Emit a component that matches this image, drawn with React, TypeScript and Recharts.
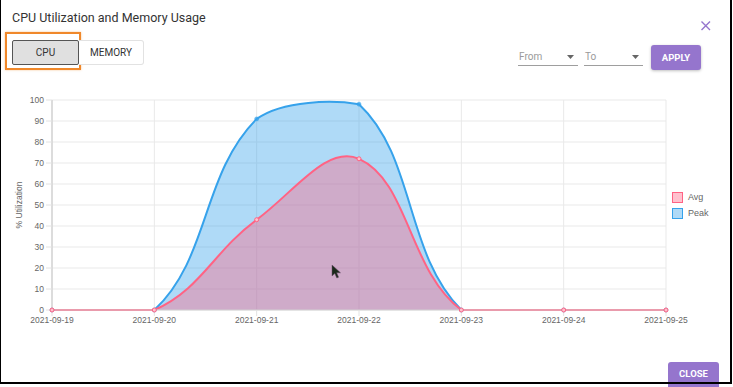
import { AreaChart, Area, XAxis, YAxis, CartesianGrid, Legend } from 'recharts';

const DATES = ['2021-09-19', '2021-09-20', '2021-09-21', '2021-09-22', '2021-09-23', '2021-09-24', '2021-09-25'];
const AVG = [0, 0, 43, 72, 0, 0, 0];
const PEAK = [0, 0, 91, 98, 0, 0, 0];
const Y_TICKS = [0, 10, 20, 30, 40, 50, 60, 70, 80, 90, 100];

const W = 733;
const H = 387;
const PLOT = { left: 52, right: 666, top: 100, bottom: 310 };
const X_AXIS_H = 30;

const AVG_STROKE = '#ff6384';
const AVG_FILL = 'rgba(255, 99, 132, 0.4)';
const PEAK_STROKE = '#36a2eb';
const PEAK_FILL = 'rgba(54, 162, 235, 0.4)';
const PURPLE = '#9575cd';

const SERIES = [
  { name: 'Avg', stroke: AVG_STROKE, fill: AVG_FILL },
  { name: 'Peak', stroke: PEAK_STROKE, fill: PEAK_FILL },
];

const data = DATES.map((date, i) => ({ date, avg: AVG[i], peak: PEAK[i] }));

type Pt = [number, number];

// chart.js style spline (tension 0.4) with control points capped to the plot area
function splineCurve(context: any) {
  const tension = 0.4;
  let line = NaN;
  let pts: Pt[] = [];
  const clamp = (v: number, lo: number, hi: number) => Math.max(lo, Math.min(hi, v));

  return {
    areaStart() {
      line = 0;
    },
    areaEnd() {
      line = NaN;
    },
    lineStart() {
      pts = [];
    },
    point(x: number, y: number) {
      pts.push([+x, +y]);
    },
    lineEnd() {
      const n = pts.length;
      if (n) {
        if (line) context.lineTo(pts[0][0], pts[0][1]);
        else context.moveTo(pts[0][0], pts[0][1]);
        const prevCp: Pt[] = [];
        const nextCp: Pt[] = [];
        for (let i = 0; i < n; i++) {
          const cur = pts[i];
          const prev = i > 0 ? pts[i - 1] : cur;
          const next = i < n - 1 ? pts[i + 1] : cur;
          const d01 = Math.hypot(cur[0] - prev[0], cur[1] - prev[1]);
          const d12 = Math.hypot(next[0] - cur[0], next[1] - cur[1]);
          let s01 = d01 / (d01 + d12);
          let s12 = d12 / (d01 + d12);
          if (isNaN(s01)) s01 = 0;
          if (isNaN(s12)) s12 = 0;
          const fa = tension * s01;
          const fb = tension * s12;
          const dx = next[0] - prev[0];
          const dy = next[1] - prev[1];
          prevCp.push([
            clamp(cur[0] - fa * dx, PLOT.left, PLOT.right),
            clamp(cur[1] - fa * dy, PLOT.top, PLOT.bottom),
          ]);
          nextCp.push([
            clamp(cur[0] + fb * dx, PLOT.left, PLOT.right),
            clamp(cur[1] + fb * dy, PLOT.top, PLOT.bottom),
          ]);
        }
        for (let i = 1; i < n; i++) {
          context.bezierCurveTo(
            nextCp[i - 1][0], nextCp[i - 1][1],
            prevCp[i][0], prevCp[i][1],
            pts[i][0], pts[i][1],
          );
        }
      }
      if (line || (line !== 0 && n === 1)) context.closePath();
      line = 1 - line;
    },
  };
}

const chartFont = '"Liberation Sans", Arial, sans-serif';
const uiFont = 'Roboto, "Noto Sans", sans-serif';

function renderYLabel(props: any) {
  const vb = props?.viewBox ?? { x: 0, y: PLOT.top, width: 52, height: PLOT.bottom - PLOT.top };
  const x = vb.x + 19;
  const y = vb.y + vb.height / 2;
  return (
    <text
      x={x}
      y={y}
      transform={`rotate(-90, ${x}, ${y})`}
      textAnchor="middle"
      dominantBaseline="central"
      fontSize={8.5}
      fontFamily={chartFont}
      fill="#666"
    >
      % Utilization
    </text>
  );
}

function renderLegend() {
  return (
    <div style={{ fontFamily: chartFont, fontSize: 9, color: '#666' }}>
      {SERIES.map((s) => (
        <div key={s.name} style={{ display: 'flex', alignItems: 'center', height: 16 }}>
          <span
            style={{
              display: 'inline-block',
              width: 9,
              height: 9,
              border: `1.5px solid ${s.stroke}`,
              background: s.fill,
              marginRight: 5,
            }}
          />
          {s.name}
        </div>
      ))}
    </div>
  );
}

const btnBase = {
  position: 'absolute' as const,
  boxSizing: 'border-box' as const,
  display: 'flex',
  alignItems: 'center',
  justifyContent: 'center',
  fontFamily: uiFont,
  fontSize: 10,
  color: '#333',
};

export default function App() {
  return (
    <div
      style={{
        position: 'absolute',
        left: 0,
        top: 0,
        width: W,
        height: H,
        background: '#fff',
        overflow: 'hidden',
        fontFamily: uiFont,
      }}
    >
      <div
        style={{
          position: 'absolute',
          left: 12,
          top: 10,
          fontSize: 12.5,
          color: '#333',
          lineHeight: '16px',
        }}
      >
        CPU Utilization and Memory Usage
      </div>

      {/* close icon */}
      <svg style={{ position: 'absolute', left: 700, top: 20 }} width={12} height={12}>
        <path d="M1.5 1.5 L10 10 M10 1.5 L1.5 10" stroke={PURPLE} strokeWidth={1.4} />
      </svg>

      {/* toggle */}
      <div
        style={{
          position: 'absolute',
          left: 5,
          top: 32,
          width: 76,
          height: 38,
          boxSizing: 'border-box',
          border: '2px solid #f0882a',
          boxShadow: '0 0 2px rgba(240,136,42,0.5)',
        }}
      />
      <div
        style={{
          ...btnBase,
          left: 12,
          top: 40,
          width: 67,
          height: 25,
          background: '#e0e0e0',
          border: '1px solid #555',
          borderRadius: 2,
        }}
      >
        CPU
      </div>
      <div
        style={{
          ...btnBase,
          left: 79,
          top: 40,
          width: 65,
          height: 25,
          background: '#fff',
          border: '1px solid #e2e2e2',
          borderLeft: 'none',
          borderRadius: '0 3px 3px 0',
        }}
      >
        MEMORY
      </div>

      {/* date selects */}
      {[
        { label: 'From', left: 518, width: 60 },
        { label: 'To', left: 584, width: 59 },
      ].map((s) => (
        <div
          key={s.label}
          style={{
            position: 'absolute',
            left: s.left,
            top: 48,
            width: s.width,
            height: 18,
            borderBottom: '1px solid #9e9e9e',
            fontSize: 10,
            color: '#9a9a9a',
            lineHeight: '17px',
            paddingLeft: 1,
            boxSizing: 'border-box',
          }}
        >
          {s.label}
          <svg style={{ position: 'absolute', right: 4, top: 7 }} width={7} height={4}>
            <path d="M0 0 L7 0 L3.5 4 Z" fill="#666" />
          </svg>
        </div>
      ))}
      <div
        style={{
          ...btnBase,
          left: 651,
          top: 45,
          width: 50,
          height: 25,
          background: PURPLE,
          color: '#fff',
          fontWeight: 700,
          fontSize: 9.5,
          borderRadius: 3,
          boxShadow: '0 1px 3px rgba(0,0,0,0.25)',
        }}
      >
        APPLY
      </div>

      <div style={{ position: 'absolute', left: 0, top: 0 }}>
        <AreaChart
          width={W}
          height={H}
          data={data}
          margin={{
            top: PLOT.top,
            right: W - PLOT.right,
            bottom: H - PLOT.bottom - X_AXIS_H,
            left: 0,
          }}
        >
          <CartesianGrid stroke="#e9e9e9" strokeWidth={1} />
          <XAxis
            dataKey="date"
            height={X_AXIS_H}
            interval={0}
            tick={{ fontSize: 8.5, fill: '#666', fontFamily: chartFont }}
            tickSize={6}
            tickMargin={1}
            tickLine={{ stroke: '#e2e2e2' }}
            axisLine={{ stroke: '#d4d4d4' }}
          />
          <YAxis
            width={PLOT.left}
            domain={[0, 100]}
            ticks={Y_TICKS}
            interval={0}
            tick={{ fontSize: 8.5, fill: '#666', fontFamily: chartFont }}
            tickSize={6}
            tickMargin={2}
            tickLine={{ stroke: '#e2e2e2' }}
            axisLine={{ stroke: '#d4d4d4', strokeWidth: 1.5 }}
            label={{ value: '% Utilization', content: renderYLabel }}
          />
          <Legend
            layout="vertical"
            align="center"
            verticalAlign="middle"
            content={renderLegend}
            wrapperStyle={{ left: 672, top: 189, width: 60, height: 34 }}
          />
          <Area
            dataKey="peak"
            name="Peak"
            type={splineCurve as any}
            stroke={PEAK_STROKE}
            strokeWidth={2}
            fill={PEAK_FILL}
            fillOpacity={1}
            dot={{ r: 2, fill: PEAK_STROKE, stroke: PEAK_STROKE, strokeWidth: 0.5, fillOpacity: 0.7 }}
            activeDot={false}
            isAnimationActive={false}
          />
          <Area
            dataKey="avg"
            name="Avg"
            type={splineCurve as any}
            stroke={AVG_STROKE}
            strokeWidth={2}
            fill={AVG_FILL}
            fillOpacity={1}
            dot={{ r: 2, fill: '#ffc0cc', stroke: AVG_STROKE, strokeWidth: 1 }}
            activeDot={false}
            isAnimationActive={false}
          />
        </AreaChart>
      </div>

      {/* mouse pointer from the screenshot */}
      <svg style={{ position: 'absolute', left: 331, top: 264 }} width={12} height={16}>
        <path d="M1 1 L1 12 L3.8 9.5 L5.8 14 L7.6 13.2 L5.7 8.8 L9.5 8.8 Z" fill="#1b2a1b" stroke="#6a4a6a" strokeWidth={0.5} />
      </svg>

      <div
        style={{
          ...btnBase,
          left: 668,
          top: 362,
          width: 51,
          height: 27,
          background: PURPLE,
          color: '#fff',
          fontWeight: 700,
          fontSize: 9.5,
          borderRadius: 3,
          paddingBottom: 4,
        }}
      >
        CLOSE
      </div>

      {/* screenshot frame */}
      <div
        style={{
          position: 'absolute',
          left: 0,
          top: -2,
          width: W - 1,
          height: H - 1,
          boxSizing: 'border-box',
          borderLeft: '1.5px solid #000',
          borderRight: '2px solid #000',
          borderBottom: '2px solid #000',
          pointerEvents: 'none',
        }}
      />
    </div>
  );
}
